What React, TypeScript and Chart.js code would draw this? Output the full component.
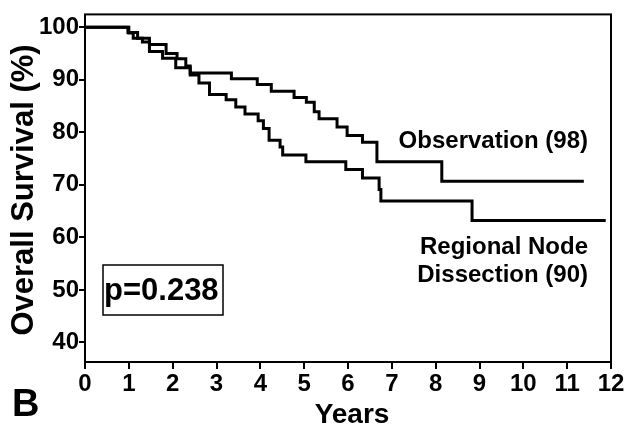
import React, { useEffect, useRef } from "react";
import { Chart, registerables } from "chart.js";

Chart.register(...registerables);

// Kaplan-Meier step data (time in years, survival in %)
const obsTimes = [0, 0.98, 1.2, 1.47, 1.85, 2.1, 2.3, 2.4, 3.34, 3.93, 4.25, 4.77, 5.05, 5.23, 5.34, 5.75, 5.98, 6.33, 6.66, 8.14, 11.38];
const obsSurv = [100, 99.0, 97.9, 96.7, 95.0, 94.0, 92.6, 91.3, 90.2, 89.1, 87.8, 86.6, 85.7, 83.9, 82.6, 81.0, 79.4, 78.1, 74.4, 70.7, 70.7];

const rndTimes = [0, 1.0, 1.1, 1.31, 1.47, 1.77, 2.07, 2.4, 2.6, 2.84, 3.22, 3.44, 3.65, 3.95, 4.07, 4.2, 4.45, 4.51, 5.04, 5.95, 6.33, 6.71, 6.75, 8.83, 11.88];
const rndSurv = [100, 98.9, 97.9, 97.2, 95.4, 94.1, 92.3, 90.9, 89.4, 87.2, 86.2, 84.8, 83.5, 82.2, 80.7, 78.5, 77.2, 75.7, 74.4, 72.9, 71.3, 69.1, 66.9, 63.2, 63.2];

const xTicks = [0, 1, 2, 3, 4, 5, 6, 7, 8, 9, 10, 11, 12];
const yTicks = [40, 50, 60, 70, 80, 90, 100];

const xTitle = "Years";
const yTitle = "Overall Survival (%)";
const panelLabel = "B";
const pValue = "p=0.238";
const obsLabel = "Observation (98)";
const rndLabel1 = "Regional Node";
const rndLabel2 = "Dissection (90)";

const FONT = "'Liberation Sans', Arial, Helvetica, sans-serif";

const toPoints = (ts: number[], vs: number[]) => ts.map((t, i) => ({ x: t, y: vs[i] }));

const overlay = {
  id: "overlay",
  afterDraw(chart: any) {
    const { ctx, chartArea: a } = chart;
    ctx.save();
    ctx.strokeStyle = "#000";
    ctx.lineWidth = 2;
    ctx.strokeRect(a.left, a.top, a.right - a.left, a.bottom - a.top);

    ctx.fillStyle = "#000";
    // annotations
    ctx.font = `bold 24px ${FONT}`;
    ctx.textAlign = "right";
    ctx.textBaseline = "middle";
    ctx.fillText(obsLabel, 588, 141);
    ctx.fillText(rndLabel1, 588, 247);
    ctx.fillText(rndLabel2, 588, 275);

    // p-value box
    ctx.lineWidth = 1.5;
    ctx.strokeRect(103, 265, 120, 50);
    ctx.font = `bold 31px ${FONT}`;
    ctx.textAlign = "left";
    ctx.textBaseline = "alphabetic";
    ctx.fillText(pValue, 104, 300);

    // x title
    ctx.font = `bold 28px ${FONT}`;
    ctx.textAlign = "center";
    ctx.textBaseline = "middle";
    ctx.fillText(xTitle, 352, 415);

    // panel label
    ctx.font = `bold 38px ${FONT}`;
    ctx.textAlign = "left";
    ctx.fillText(panelLabel, 12, 406);

    // y title
    ctx.save();
    ctx.translate(24, 190);
    ctx.rotate(-Math.PI / 2);
    ctx.font = `bold 31px ${FONT}`;
    ctx.textAlign = "center";
    ctx.textBaseline = "middle";
    ctx.fillText(yTitle, 0, 0);
    ctx.restore();

    ctx.restore();
  },
};

export default function App() {
  const ref = useRef<HTMLCanvasElement>(null);

  useEffect(() => {
    document.body.style.margin = "0";
    const canvas = ref.current;
    if (!canvas) return;
    const chart = new Chart(canvas, {
      type: "line",
      data: {
        datasets: [
          {
            label: "Observation",
            data: toPoints(obsTimes, obsSurv),
            stepped: "before",
            borderColor: "#000",
            borderWidth: 3,
            pointRadius: 0,
            fill: false,
          },
          {
            label: "Regional Node Dissection",
            data: toPoints(rndTimes, rndSurv),
            stepped: "before",
            borderColor: "#000",
            borderWidth: 3,
            pointRadius: 0,
            fill: false,
          },
        ],
      },
      options: {
        responsive: false,
        animation: false,
        devicePixelRatio: 1,
        layout: { padding: { left: 0, right: 19, top: 10, bottom: 0 } },
        plugins: {
          legend: { display: false },
          tooltip: { enabled: false },
          title: { display: false },
        },
        scales: {
          x: {
            type: "linear",
            min: 0,
            max: 12,
            afterBuildTicks: (scale: any) => {
              scale.ticks = xTicks.map((v) => ({ value: v }));
            },
            afterFit: (scale: any) => {
              scale.height = 72;
            },
            grid: {
              display: true,
              drawOnChartArea: false,
              drawTicks: true,
              tickLength: 7,
              color: "#000",
              lineWidth: 2,
            },
            border: { display: false },
            ticks: {
              color: "#000",
              font: { family: FONT, size: 24, weight: "bold" },
              padding: 1,
              maxRotation: 0,
              autoSkip: false,
            },
          },
          y: {
            type: "linear",
            min: 36.28,
            max: 102.44,
            afterBuildTicks: (scale: any) => {
              scale.ticks = yTicks.map((v) => ({ value: v }));
            },
            afterFit: (scale: any) => {
              scale.width = 85;
            },
            grid: {
              display: true,
              drawOnChartArea: false,
              drawTicks: true,
              tickLength: 6,
              color: "#000",
              lineWidth: 2,
            },
            border: { display: false },
            ticks: {
              color: "#000",
              font: { family: FONT, size: 24, weight: "bold" },
              padding: 0,
              autoSkip: false,
            },
          },
        },
      },
      plugins: [overlay],
    });
    return () => chart.destroy();
  }, []);

  return (
    <div style={{ width: 630, height: 434, background: "#fff" }}>
      <canvas ref={ref} width={630} height={434} style={{ display: "block" }} />
    </div>
  );
}
